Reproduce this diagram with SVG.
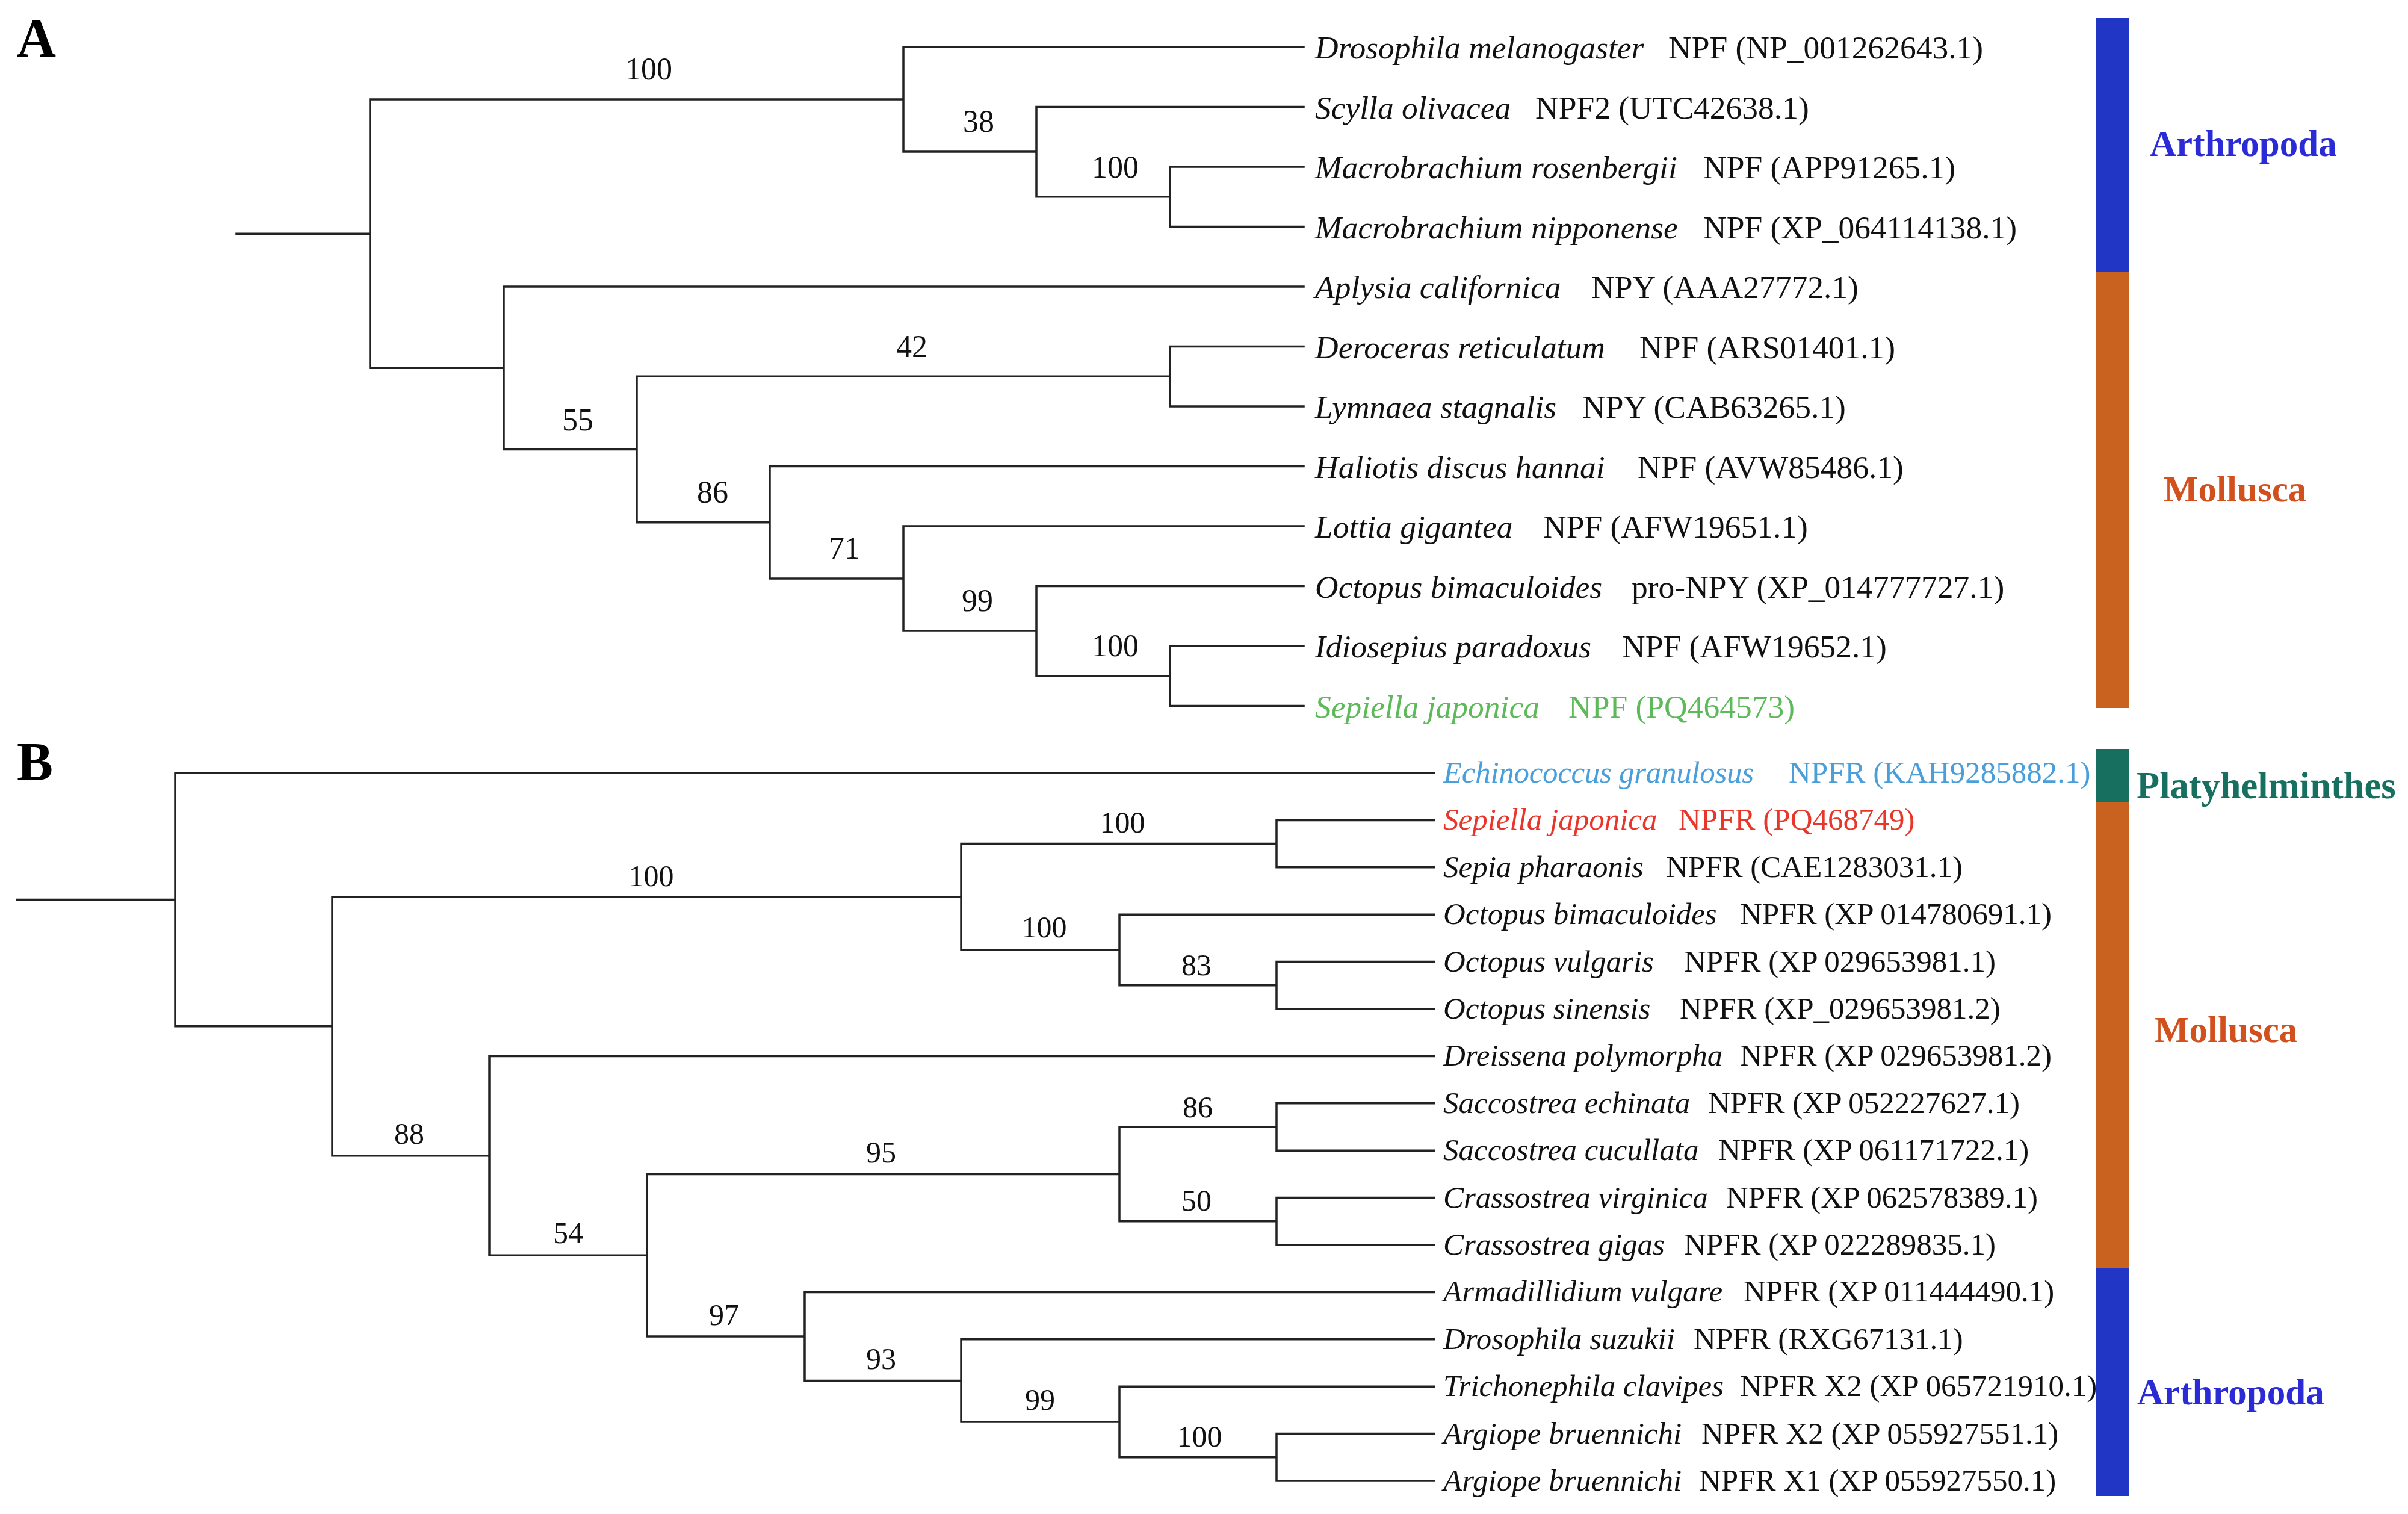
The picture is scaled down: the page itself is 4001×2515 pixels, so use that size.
<svg xmlns="http://www.w3.org/2000/svg" width="4001" height="2515" viewBox="0 0 4001 2515">
<style>
.br{fill:none;stroke:#222;stroke-width:3.5;stroke-linecap:square}
.la{font-family:"Liberation Serif","Times New Roman",serif;font-size:53.5px;fill:#111}
.lb{font-family:"Liberation Serif","Times New Roman",serif;font-size:51px;fill:#111}
.sp{font-style:italic}
.bsa{font-family:"Liberation Serif","Times New Roman",serif;font-size:52px;fill:#111;text-anchor:middle}
.bsb{font-family:"Liberation Serif","Times New Roman",serif;font-size:50px;fill:#111;text-anchor:middle}
.grp{font-family:"Liberation Serif","Times New Roman",serif;font-size:61px;font-weight:bold}
.pl{font-family:"Liberation Serif","Times New Roman",serif;font-size:90px;font-weight:bold;fill:#000}
</style>
<rect width="4001" height="2515" fill="#fff"/>
<text class="pl" x="28" y="94">A</text>
<text class="pl" x="28" y="1296">B</text>

<g id="connectors">
<path class="br" d="M393,388.2H615 M615,165.1V611.25 M615,165.1H1501 M615,611.25H837
M1501,78V252.1 M1501,78H2166 M1501,252.1H1722
M1722,177.5V326.75 M1722,177.5H2166 M1722,326.75H1944
M1944,277V376.5 M1944,277H2166 M1944,376.5H2166
M837,476V746.5 M837,476H2166 M837,746.5H1058
M1058,625.25V867.8 M1058,625.25H1944 M1058,867.8H1279
M1944,575.5V675 M1944,575.5H2166 M1944,675H2166
M1279,774.5V961 M1279,774.5H2166 M1279,961H1501
M1501,874V1048.1 M1501,874H2166 M1501,1048.1H1722
M1722,973.5V1122.75 M1722,973.5H2166 M1722,1122.75H1944
M1944,1073V1172.5 M1944,1073H2166 M1944,1172.5H2166"/>
<path class="br" d="M28,1494.4H291 M291,1284V1704.8 M291,1284H2383 M291,1704.8H552
M552,1489.8V1919.8 M552,1489.8H1597 M552,1919.8H813
M1597,1401.6V1578 M1597,1401.6H2121 M1597,1578H1860
M2121,1362.4V1440.8 M2121,1362.4H2383 M2121,1440.8H2383
M1860,1519.2V1636.8 M1860,1519.2H2383 M1860,1636.8H2121
M2121,1597.6V1676 M2121,1597.6H2383 M2121,1676H2383
M813,1754.4V2085.2 M813,1754.4H2383 M813,2085.2H1075
M1075,1950.4V2219.9 M1075,1950.4H1860 M1075,2219.9H1337
M1860,1872V2028.8 M1860,1872H2121 M1860,2028.8H2121
M2121,1832.8V1911.2 M2121,1832.8H2383 M2121,1911.2H2383
M2121,1989.6V2068 M2121,1989.6H2383 M2121,2068H2383
M1337,2146.4V2293.4 M1337,2146.4H2383 M1337,2293.4H1597
M1597,2224.8V2362 M1597,2224.8H2383 M1597,2362H1860
M1860,2303.2V2420.8 M1860,2303.2H2383 M1860,2420.8H2121
M2121,2381.6V2460 M2121,2381.6H2383 M2121,2460H2383"/>
</g>

<g id="support-A">
<text class="bsa" x="1078" y="132">100</text>
<text class="bsa" x="1626" y="219">38</text>
<text class="bsa" x="1853" y="295">100</text>
<text class="bsa" x="1515" y="593">42</text>
<text class="bsa" x="960" y="715">55</text>
<text class="bsa" x="1184" y="835">86</text>
<text class="bsa" x="1403" y="928">71</text>
<text class="bsa" x="1624" y="1015">99</text>
<text class="bsa" x="1853" y="1090">100</text>
</g>
<g id="support-B">
<text class="bsb" x="1082" y="1472">100</text>
<text class="bsb" x="1865" y="1383">100</text>
<text class="bsb" x="1735" y="1557">100</text>
<text class="bsb" x="1988" y="1620">83</text>
<text class="bsb" x="680" y="1900">88</text>
<text class="bsb" x="944" y="2065">54</text>
<text class="bsb" x="1464" y="1931">95</text>
<text class="bsb" x="1990" y="1856">86</text>
<text class="bsb" x="1988" y="2011">50</text>
<text class="bsb" x="1203" y="2201">97</text>
<text class="bsb" x="1464" y="2274">93</text>
<text class="bsb" x="1728" y="2342">99</text>
<text class="bsb" x="1993" y="2403">100</text>
</g>

<g id="leaf-A1"><text class="la" y="97"><tspan class="sp" x="2185">Drosophila melanogaster</tspan><tspan x="2772">NPF (NP_001262643.1)</tspan></text></g>
<g id="leaf-A2"><text class="la" y="196.5"><tspan class="sp" x="2185">Scylla olivacea</tspan><tspan x="2551">NPF2 (UTC42638.1)</tspan></text></g>
<g id="leaf-A3"><text class="la" y="296"><tspan class="sp" x="2185">Macrobrachium rosenbergii</tspan><tspan x="2830">NPF (APP91265.1)</tspan></text></g>
<g id="leaf-A4"><text class="la" y="395.5"><tspan class="sp" x="2185">Macrobrachium nipponense</tspan><tspan x="2830">NPF (XP_064114138.1)</tspan></text></g>
<g id="leaf-A5"><text class="la" y="495"><tspan class="sp" x="2185">Aplysia californica</tspan><tspan x="2644">NPY (AAA27772.1)</tspan></text></g>
<g id="leaf-A6"><text class="la" y="594.5"><tspan class="sp" x="2185">Deroceras reticulatum</tspan><tspan x="2724">NPF (ARS01401.1)</tspan></text></g>
<g id="leaf-A7"><text class="la" y="694"><tspan class="sp" x="2185">Lymnaea stagnalis</tspan><tspan x="2629">NPY (CAB63265.1)</tspan></text></g>
<g id="leaf-A8"><text class="la" y="793.5"><tspan class="sp" x="2185">Haliotis discus hannai</tspan><tspan x="2721">NPF (AVW85486.1)</tspan></text></g>
<g id="leaf-A9"><text class="la" y="893"><tspan class="sp" x="2185">Lottia gigantea</tspan><tspan x="2564">NPF (AFW19651.1)</tspan></text></g>
<g id="leaf-A10"><text class="la" y="992.5"><tspan class="sp" x="2185">Octopus bimaculoides</tspan><tspan x="2711">pro-NPY (XP_014777727.1)</tspan></text></g>
<g id="leaf-A11"><text class="la" y="1092"><tspan class="sp" x="2185">Idiosepius paradoxus</tspan><tspan x="2695">NPF (AFW19652.1)</tspan></text></g>
<g id="leaf-A12"><text class="la" y="1191.5" style="fill:#5DB95A"><tspan class="sp" x="2185">Sepiella japonica</tspan><tspan x="2606">NPF (PQ464573)</tspan></text></g>

<g id="leaf-B1"><text class="lb" y="1300" style="fill:#4A9FDB"><tspan class="sp" x="2398" textLength="516" lengthAdjust="spacing">Echinococcus granulosus</tspan><tspan x="2972">NPFR (KAH9285882.1)</tspan></text></g>
<g id="leaf-B2"><text class="lb" y="1378.4" style="fill:#E8362A"><tspan class="sp" x="2398">Sepiella japonica</tspan><tspan x="2789">NPFR (PQ468749)</tspan></text></g>
<g id="leaf-B3"><text class="lb" y="1456.8"><tspan class="sp" x="2398">Sepia pharaonis</tspan><tspan x="2768">NPFR (CAE1283031.1)</tspan></text></g>
<g id="leaf-B4"><text class="lb" y="1535.2"><tspan class="sp" x="2398">Octopus bimaculoides</tspan><tspan x="2891">NPFR (XP 014780691.1)</tspan></text></g>
<g id="leaf-B5"><text class="lb" y="1613.6"><tspan class="sp" x="2398">Octopus vulgaris</tspan><tspan x="2798">NPFR (XP 029653981.1)</tspan></text></g>
<g id="leaf-B6"><text class="lb" y="1692"><tspan class="sp" x="2398">Octopus sinensis</tspan><tspan x="2791">NPFR (XP_029653981.2)</tspan></text></g>
<g id="leaf-B7"><text class="lb" y="1770.4"><tspan class="sp" x="2398">Dreissena polymorpha</tspan><tspan x="2891">NPFR (XP 029653981.2)</tspan></text></g>
<g id="leaf-B8"><text class="lb" y="1848.8"><tspan class="sp" x="2398">Saccostrea echinata</tspan><tspan x="2838">NPFR (XP 052227627.1)</tspan></text></g>
<g id="leaf-B9"><text class="lb" y="1927.2"><tspan class="sp" x="2398">Saccostrea cucullata</tspan><tspan x="2855">NPFR (XP 061171722.1)</tspan></text></g>
<g id="leaf-B10"><text class="lb" y="2005.6"><tspan class="sp" x="2398">Crassostrea virginica</tspan><tspan x="2868">NPFR (XP 062578389.1)</tspan></text></g>
<g id="leaf-B11"><text class="lb" y="2084"><tspan class="sp" x="2398">Crassostrea gigas</tspan><tspan x="2798">NPFR (XP 022289835.1)</tspan></text></g>
<g id="leaf-B12"><text class="lb" y="2162.4"><tspan class="sp" x="2398">Armadillidium vulgare</tspan><tspan x="2897">NPFR (XP 011444490.1)</tspan></text></g>
<g id="leaf-B13"><text class="lb" y="2240.8"><tspan class="sp" x="2398">Drosophila suzukii</tspan><tspan x="2814">NPFR (RXG67131.1)</tspan></text></g>
<g id="leaf-B14"><text class="lb" y="2319.2"><tspan class="sp" x="2398">Trichonephila clavipes</tspan><tspan x="2891">NPFR X2 (XP 065721910.1)</tspan></text></g>
<g id="leaf-B15"><text class="lb" y="2397.6"><tspan class="sp" x="2398">Argiope bruennichi</tspan><tspan x="2827">NPFR X2 (XP 055927551.1)</tspan></text></g>
<g id="leaf-B16"><text class="lb" y="2476"><tspan class="sp" x="2398">Argiope bruennichi</tspan><tspan x="2823">NPFR X1 (XP 055927550.1)</tspan></text></g>

<g id="clade-A-arthropoda"><rect x="3483" y="30" width="55" height="422" fill="#2236C6"/><text class="grp" x="3572" y="259" fill="#2A2AD6">Arthropoda</text></g>
<g id="clade-A-mollusca"><rect x="3483" y="452" width="55" height="724" fill="#C8621E"/><text class="grp" x="3595" y="833" fill="#D2501E">Mollusca</text></g>
<g id="clade-B-platyhelminthes"><rect x="3483" y="1245" width="55" height="87" fill="#17705F"/><text class="grp" x="3550" y="1326" fill="#17705F" style="font-size:62.5px">Platyhelminthes</text></g>
<g id="clade-B-mollusca"><rect x="3483" y="1332" width="55" height="774" fill="#C8621E"/><text class="grp" x="3580" y="1731" fill="#D2501E">Mollusca</text></g>
<g id="clade-B-arthropoda"><rect x="3483" y="2106" width="55" height="379" fill="#2236C6"/><text class="grp" x="3551" y="2333" fill="#2A2AD6">Arthropoda</text></g>
</svg>
